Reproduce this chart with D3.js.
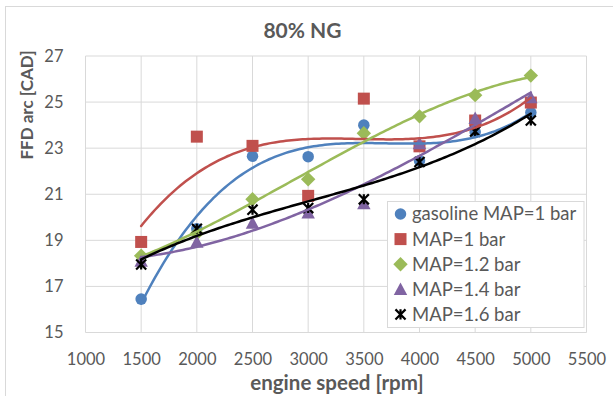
<!DOCTYPE html>
<html>
<head>
<meta charset="utf-8">
<script src="https://cdn.jsdelivr.net/npm/d3@7"></script>
<style>
  html, body { margin: 0; padding: 0; background: #fff; }
  svg { display: block; font-family: Lato, "Open Sans", sans-serif; }
</style>
</head>
<body>
<svg id="chart" width="613" height="396"></svg>
<script>
// Engine speed sweep [rpm]
const speeds = [1500, 2000, 2500, 3000, 3500, 4000, 4500, 5000];

// FFD arc [CAD] per operating condition
const gasolineMap10 = [16.45, 19.5, 22.65, 22.63, 24.0, 22.45, 23.7, 24.55];
const ngMap10 = [18.93, 23.5, 23.1, 20.93, 25.15, 23.08, 24.2, 24.98];
const ngMap12 = [18.33, 19.3, 20.78, 21.65, 23.65, 24.38, 25.3, 26.15];
const ngMap14 = [18.1, 18.93, 19.75, 20.2, 20.6, 23.2, 24.3, 25.2];
const ngMap16 = [17.95, 19.5, 20.33, 20.4, 20.78, 22.4, 23.72, 24.2];

const seriesNames = ["gasoline MAP=1 bar", "MAP=1 bar", "MAP=1.2 bar", "MAP=1.4 bar", "MAP=1.6 bar"];
const seriesValues = [gasolineMap10, ngMap10, ngMap12, ngMap14, ngMap16];
const seriesColors = ["#4F81BD", "#C0504D", "#9BBB59", "#8064A2", "#000000"];
const seriesSymbols = ["circle", "square", "diamond", "triangle", "star"];

const xTicks = [1000, 1500, 2000, 2500, 3000, 3500, 4000, 4500, 5000, 5500];
const yTicks = [15, 17, 19, 21, 23, 25, 27];

const chartTitle = "80% NG";
const xTitle = "engine speed [rpm]";
const yTitle = "FFD arc [CAD]";

const svg = d3.select("#chart");
const textColor = "#595959";
const gridColor = "#D9D9D9";

const plot = { left: 85.5, right: 586.5, top: 56, bottom: 332.5 };
const x = d3.scaleLinear().domain([1000, 5500]).range([plot.left, plot.right]);
const y = d3.scaleLinear().domain([15, 27]).range([plot.bottom, plot.top]);

// Chart area frame
svg.append("rect")
  .attr("x", 5.5).attr("y", 6.5).attr("width", 700).attr("height", 500)
  .attr("fill", "#fff").attr("stroke", gridColor).attr("stroke-width", 1);

// Gridlines
svg.append("g").selectAll("line").data(xTicks).join("line")
  .attr("x1", d => x(d)).attr("x2", d => x(d))
  .attr("y1", plot.top).attr("y2", plot.bottom)
  .attr("stroke", gridColor).attr("stroke-width", 1);
svg.append("g").selectAll("line").data(yTicks).join("line")
  .attr("x1", plot.left).attr("x2", plot.right)
  .attr("y1", d => y(d)).attr("y2", d => y(d))
  .attr("stroke", gridColor).attr("stroke-width", 1);

// Axes (labels only; lines come from the grid)
const xAxis = svg.append("g")
  .attr("transform", `translate(0,${plot.bottom})`)
  .call(d3.axisBottom(x).tickValues(xTicks).tickSize(0).tickPadding(21).tickFormat(d3.format("d")));
xAxis.select(".domain").remove();
xAxis.selectAll("text").attr("fill", textColor).attr("font-size", 16.5).attr("font-family", "Lato");

const yAxis = svg.append("g")
  .attr("transform", `translate(${plot.left},0)`)
  .call(d3.axisLeft(y).tickValues(yTicks).tickSize(0).tickPadding(22).tickFormat(d3.format("d")));
yAxis.select(".domain").remove();
yAxis.selectAll("text").attr("fill", textColor).attr("font-size", 16.5).attr("font-family", "Lato");

// Titles
svg.append("text").attr("x", 302.5).attr("y", 38).attr("text-anchor", "middle")
  .attr("font-size", 21).attr("font-weight", "bold").attr("fill", textColor).text(chartTitle);
svg.append("text").attr("x", 337).attr("y", 390).attr("text-anchor", "middle")
  .attr("font-size", 20.5).attr("font-weight", "bold").attr("fill", textColor).text(xTitle);
svg.append("text").attr("transform", "translate(33,105) rotate(-90)").attr("text-anchor", "middle")
  .attr("font-size", 17).attr("font-weight", "bold").attr("fill", textColor).text(yTitle);

// Least-squares cubic trendline
function polyFit(xs, ys, order) {
  const n = order + 1;
  const ts = xs.map(v => (v - 3250) / 1000);
  const A = Array.from({ length: n }, () => new Array(n + 1).fill(0));
  for (let r = 0; r < n; r++) {
    for (let c = 0; c < n; c++) A[r][c] = d3.sum(ts, t => Math.pow(t, r + c));
    A[r][n] = d3.sum(ts, (t, i) => ys[i] * Math.pow(t, r));
  }
  for (let p = 0; p < n; p++) {
    let m = p;
    for (let r = p + 1; r < n; r++) if (Math.abs(A[r][p]) > Math.abs(A[m][p])) m = r;
    [A[p], A[m]] = [A[m], A[p]];
    for (let r = 0; r < n; r++) {
      if (r === p) continue;
      const f = A[r][p] / A[p][p];
      for (let c = p; c <= n; c++) A[r][c] -= f * A[p][c];
    }
  }
  const coef = A.map((row, i) => row[n] / row[i]);
  return v => { const t = (v - 3250) / 1000; return coef.reduce((s, c, i) => s + c * Math.pow(t, i), 0); };
}

// Marker shapes
function drawMarker(g, type, color, cx, cy, s) {
  if (type === "circle") {
    g.append("circle").attr("cx", cx).attr("cy", cy).attr("r", s * 0.48).attr("fill", color);
  } else if (type === "square") {
    g.append("rect").attr("x", cx - s / 2).attr("y", cy - s / 2).attr("width", s).attr("height", s).attr("fill", color);
  } else if (type === "diamond") {
    const h = s * 0.6;
    g.append("path").attr("d", `M${cx},${cy - h}L${cx + h},${cy}L${cx},${cy + h}L${cx - h},${cy}Z`).attr("fill", color);
  } else if (type === "triangle") {
    const h = s * 0.56;
    g.append("path").attr("d", `M${cx},${cy - h}L${cx + h},${cy + h * 0.85}L${cx - h},${cy + h * 0.85}Z`).attr("fill", color);
  } else {
    const h = s * 0.42;
    g.append("path")
      .attr("d", `M${cx - h},${cy - h}L${cx + h},${cy + h}M${cx + h},${cy - h}L${cx - h},${cy + h}M${cx},${cy - h}L${cx},${cy + h}`)
      .attr("stroke", color).attr("stroke-width", 2.2).attr("fill", "none");
  }
}

// Data markers
const markers = svg.append("g");
seriesValues.forEach((vals, si) => {
  vals.forEach((v, i) => drawMarker(markers, seriesSymbols[si], seriesColors[si], x(speeds[i]), y(v), 12));
});

// Trendlines
const curveX = d3.range(1500, 5000.1, 25);
const trend = svg.append("g");
seriesValues.forEach((vals, si) => {
  const f = polyFit(speeds, vals, 3);
  trend.append("path")
    .datum(curveX)
    .attr("d", d3.line().x(d => x(d)).y(d => y(f(d))))
    .attr("fill", "none").attr("stroke", seriesColors[si]).attr("stroke-width", 2.5)
    .attr("stroke-linecap", "round");
});

// Legend
const legend = svg.append("g");
legend.append("rect").attr("x", 387.5).attr("y", 201.5).attr("width", 196.5).attr("height", 126)
  .attr("fill", "#fff").attr("stroke", gridColor);
seriesNames.forEach((name, i) => {
  const cy = 214 + i * 25.1;
  drawMarker(legend, seriesSymbols[i], seriesColors[i], 400.5, cy, 12);
  legend.append("text").attr("x", 412).attr("y", cy).attr("dy", "0.35em")
    .attr("font-size", 18.5).attr("fill", textColor).text(name);
});
</script>
</body>
</html>
